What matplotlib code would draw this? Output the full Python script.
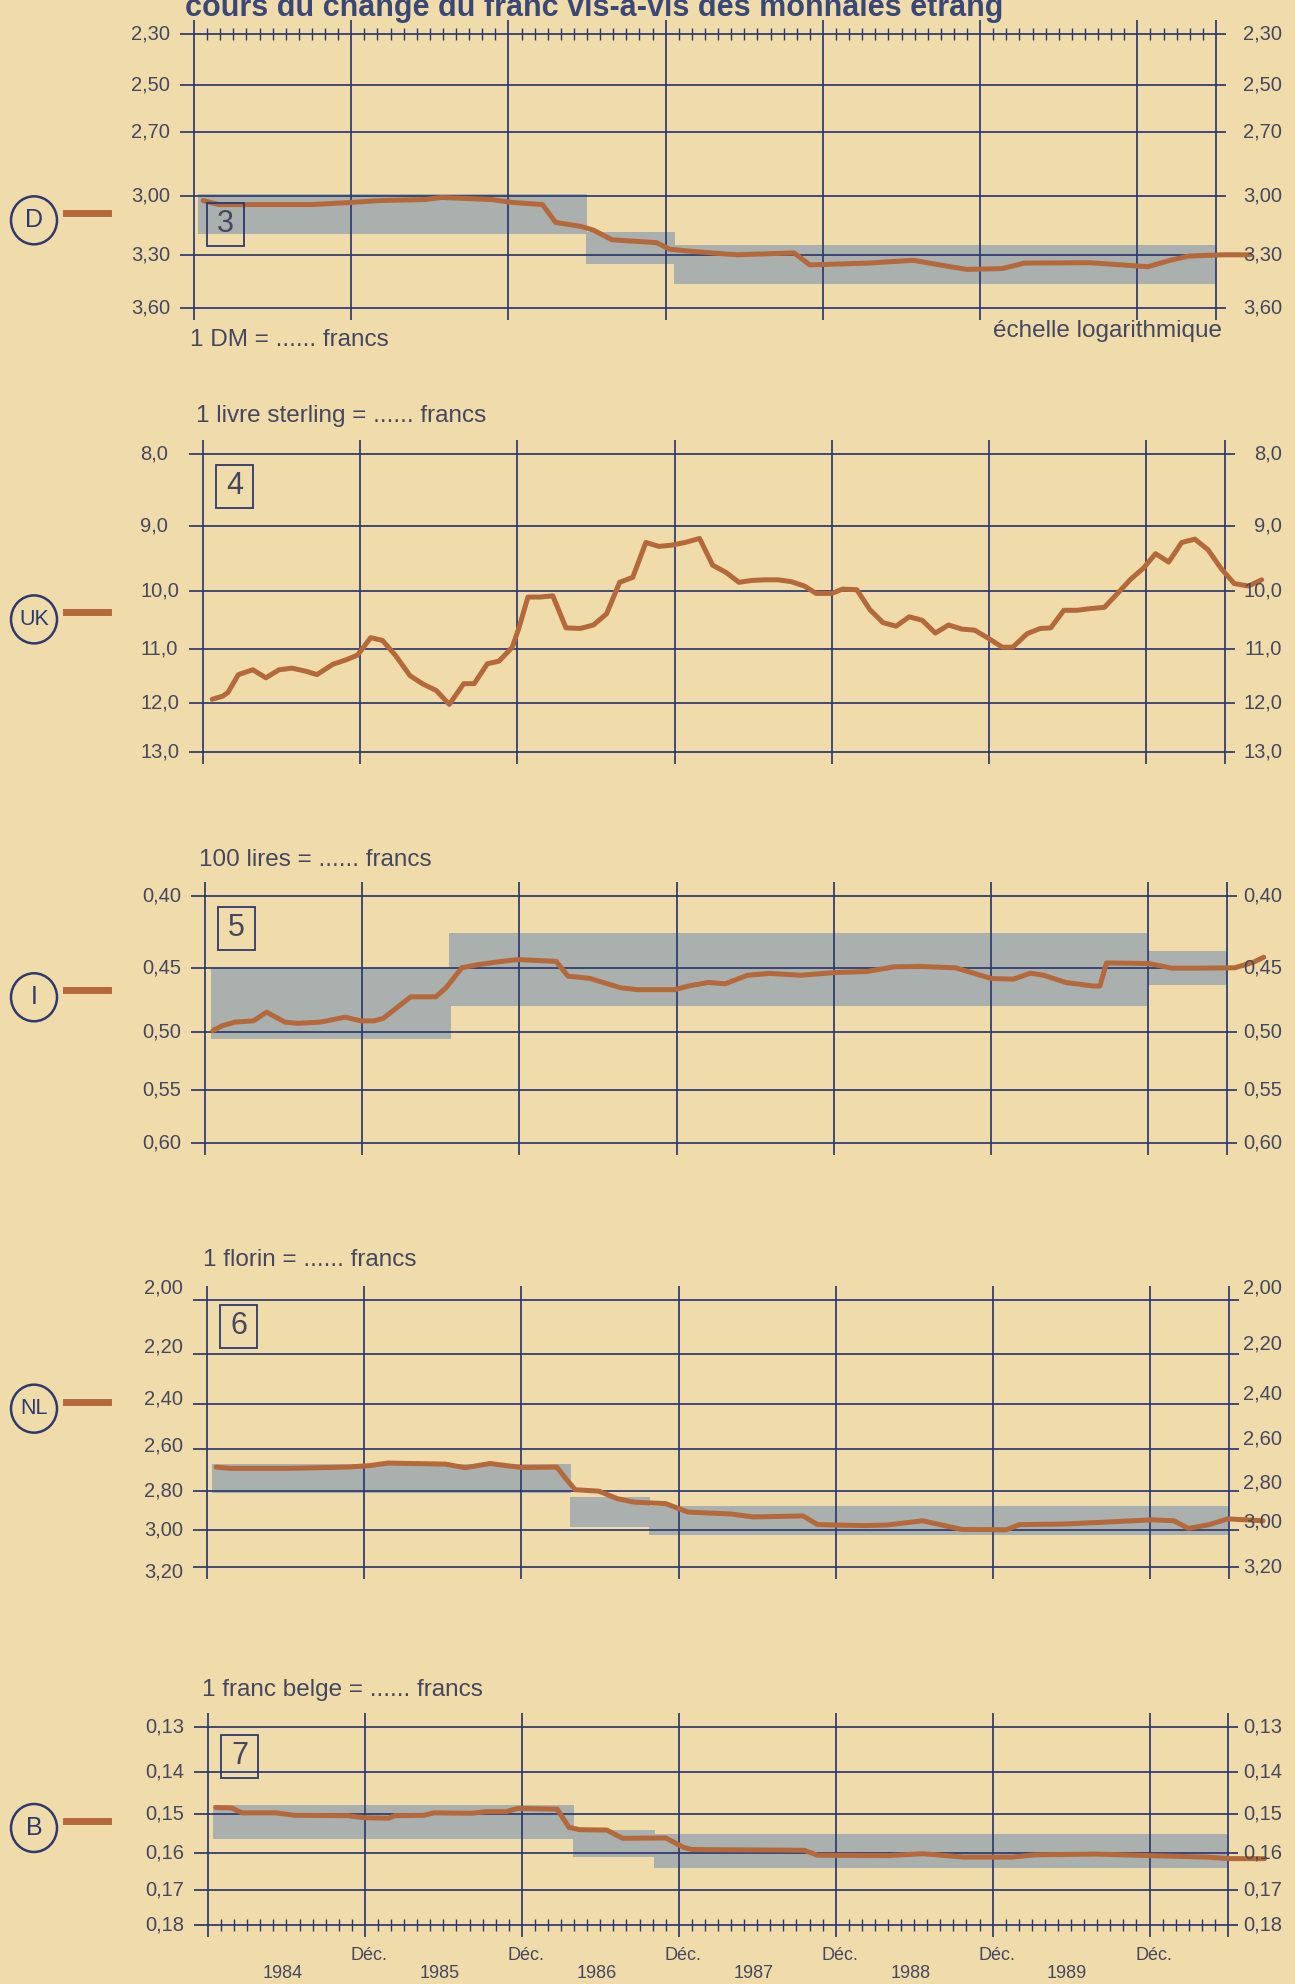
import matplotlib.pyplot as plt
from matplotlib import transforms
from matplotlib.patches import Ellipse, Rectangle
from matplotlib.lines import Line2D
from matplotlib.ticker import NullLocator

W, H, DPI = 1295, 1984, 100

BG = '#f0dcaa'
NAVY = '#2c3a6e'
INK = '#434860'
RUST = '#b5693b'
GREY = '#aab0ae'

plt.rcParams['font.family'] = ['Liberation Sans', 'DejaVu Sans']
NARROW = ['Liberation Sans Narrow', 'Liberation Sans', 'DejaVu Sans']

# x axis in months, counted from December 1983
month_lines = [0, 12, 24, 36, 48, 60, 72, 78]
dec_months = [12, 24, 36, 48, 60, 72]
year_months = [6, 18, 30, 42, 54, 66]
year_labels = ['1984', '1985', '1986', '1987', '1988', '1989']

# Deutsche Mark
d_ticks = [2.30, 2.50, 2.70, 3.00, 3.30, 3.60]
d_labels = ['2,30', '2,50', '2,70', '3,00', '3,30', '3,60']
d_months = [0.7, 1.9, 5.6, 9.0, 11.8, 14.2, 17.6, 18.9, 22.7, 24.4, 26.6, 27.6,
            29.5, 30.5, 31.9, 35.3, 36.3, 37.7, 41.4, 45.8, 47.0, 51.5, 54.9,
            56.9, 59.0, 61.7, 63.4, 68.4, 71.8, 72.8, 74.5, 75.9, 78.6, 80.6]
d_values = [3.02, 3.04, 3.04, 3.04, 3.03, 3.02, 3.015, 3.005, 3.015, 3.03, 3.04,
            3.13, 3.15, 3.17, 3.22, 3.235, 3.27, 3.28, 3.30, 3.29, 3.355, 3.345,
            3.33, 3.355, 3.38, 3.375, 3.345, 3.343, 3.36, 3.365, 3.33, 3.307,
            3.30, 3.30]
d_band_start = [0.3, 29.9, 36.6]
d_band_end = [30.0, 36.7, 80.6]
d_band_low = [2.99, 3.18, 3.25]
d_band_high = [3.19, 3.35, 3.46]

# livre sterling
uk_ticks = [8.0, 9.0, 10.0, 11.0, 12.0, 13.0]
uk_labels = ['8,0', '9,0', '10,0', '11,0', '12,0', '13,0']
uk_months = [0.7, 1.5, 1.9, 2.7, 3.8, 4.8, 5.8, 6.8, 7.9, 8.7, 9.9, 11.0, 11.8,
             12.8, 13.7, 14.7, 15.8, 16.8, 17.8, 18.8, 19.9, 20.7, 21.7, 22.6,
             23.6, 24.1, 24.8, 25.7, 26.7, 27.7, 28.8, 29.8, 30.8, 31.8, 32.8,
             33.8, 34.8, 35.8, 36.8, 37.9, 38.9, 39.9, 40.9, 41.9, 42.9, 43.9,
             44.9, 45.9, 46.8, 48.0, 48.8, 49.9, 50.9, 51.9, 52.9, 53.9, 54.9,
             55.9, 56.9, 57.9, 58.9, 60.0, 61.0, 61.8, 62.9, 63.9, 64.7, 65.7,
             66.7, 67.8, 68.8, 69.8, 70.8, 71.8, 72.7, 73.7, 74.7, 75.7, 76.7,
             77.7, 78.7, 79.8, 80.8]
uk_values = [11.93, 11.87, 11.8, 11.46, 11.37, 11.52, 11.37, 11.34, 11.4, 11.46,
             11.27, 11.18, 11.1, 10.79, 10.84, 11.11, 11.48, 11.64, 11.76, 12.03,
             11.63, 11.63, 11.26, 11.21, 10.96, 10.63, 10.1, 10.1, 10.08, 10.62,
             10.63, 10.57, 10.38, 9.86, 9.78, 9.24, 9.3, 9.28, 9.24, 9.18, 9.59,
             9.7, 9.86, 9.83, 9.82, 9.82, 9.85, 9.92, 10.04, 10.04, 9.97, 9.98,
             10.31, 10.53, 10.59, 10.43, 10.49, 10.71, 10.57, 10.64, 10.66, 10.81,
             10.96, 10.96, 10.72, 10.63, 10.62, 10.32, 10.32, 10.29, 10.27, 10.04,
             9.81, 9.63, 9.41, 9.54, 9.24, 9.19, 9.35, 9.64, 9.88, 9.92, 9.82]

# lire (100 lires)
it_ticks = [0.40, 0.45, 0.50, 0.55, 0.60]
it_labels = ['0,40', '0,45', '0,50', '0,55', '0,60']
it_months = [0.6, 1.3, 2.3, 3.7, 4.7, 6.1, 7.1, 8.8, 10.7, 11.9, 12.9, 13.6, 14.7,
             15.7, 17.6, 18.4, 19.6, 20.8, 22.5, 23.9, 26.8, 27.7, 29.4, 31.7,
             33.0, 35.8, 37.0, 38.4, 39.7, 41.4, 43.1, 45.5, 48.0, 50.5, 52.6,
             54.6, 57.3, 60.0, 61.7, 63.0, 64.0, 65.7, 67.8, 68.3, 68.8, 70.8,
             72.1, 73.8, 75.9, 78.6, 80.0, 80.8]
it_values = [0.499, 0.495, 0.492, 0.491, 0.484, 0.492, 0.493, 0.492, 0.488, 0.491,
             0.491, 0.489, 0.480, 0.472, 0.472, 0.465, 0.450, 0.4478, 0.4455,
             0.444, 0.4453, 0.4562, 0.458, 0.465, 0.4665, 0.4665, 0.4635, 0.461,
             0.462, 0.4556, 0.4542, 0.4556, 0.4536, 0.4528, 0.4493, 0.449,
             0.4501, 0.458, 0.4585, 0.454, 0.4556, 0.461, 0.4637, 0.4637, 0.4465,
             0.4467, 0.447, 0.4503, 0.4503, 0.45, 0.446, 0.4423]
it_band_start = [0.45, 18.6, 72.0]
it_band_end = [18.8, 71.9, 80.0]
it_band_low = [0.450, 0.425, 0.438]
it_band_high = [0.506, 0.479, 0.463]

# florin
nl_ticks = [2.00, 2.20, 2.40, 2.60, 2.80, 3.00, 3.20]
nl_labels = ['2,00', '2,20', '2,40', '2,60', '2,80', '3,00', '3,20']
nl_months = [0.7, 1.8, 6.2, 10.7, 12.4, 13.8, 18.2, 19.7, 21.6, 24.0, 26.7, 27.4,
             28.1, 29.9, 31.3, 32.6, 35.0, 36.7, 40.0, 41.7, 45.5, 46.6, 50.2,
             51.9, 54.6, 57.6, 61.0, 62.0, 65.4, 68.8, 72.2, 73.8, 74.9, 76.5,
             77.9, 80.6]
nl_values = [2.684, 2.69, 2.69, 2.684, 2.677, 2.665, 2.67, 2.687, 2.667, 2.686,
             2.684, 2.74, 2.793, 2.80, 2.837, 2.855, 2.862, 2.905, 2.915, 2.93,
             2.925, 2.97, 2.975, 2.972, 2.95, 2.995, 2.997, 2.97, 2.967, 2.956,
             2.945, 2.95, 2.99, 2.97, 2.94, 2.95]
nl_band_start = [0.4, 27.7, 33.7]
nl_band_end = [27.8, 33.8, 79.9]
nl_band_low = [2.67, 2.83, 2.875]
nl_band_high = [2.81, 2.98, 3.025]

# franc belge
b_ticks = [0.13, 0.14, 0.15, 0.16, 0.17, 0.18]
b_labels = ['0,13', '0,14', '0,15', '0,16', '0,17', '0,18']
b_months = [0.6, 1.8, 2.6, 5.2, 6.6, 10.7, 11.9, 13.8, 14.3, 16.5, 17.3, 20.2,
            21.3, 22.8, 23.7, 26.7, 27.6, 28.4, 30.5, 31.7, 35.0, 36.4, 37.0,
            45.6, 46.6, 52.0, 54.7, 57.8, 61.5, 63.2, 67.9, 72.0, 76.4, 78.1, 80.8]
b_values = [0.1484, 0.1485, 0.1497, 0.1497, 0.1503, 0.1504, 0.1509, 0.151,
            0.1504, 0.1503, 0.1497, 0.1498, 0.1494, 0.1494, 0.1486, 0.1488,
            0.1533, 0.1539, 0.154, 0.1561, 0.156, 0.1585, 0.159, 0.1592, 0.1605,
            0.1606, 0.1601, 0.161, 0.161, 0.1604, 0.1602, 0.1606, 0.161, 0.1614,
            0.1614]
b_band_start = [0.4, 27.9, 34.1]
b_band_end = [28.0, 34.2, 80.3]
b_band_low = [0.1477, 0.154, 0.155]
b_band_high = [0.1563, 0.161, 0.164]

panels = [
    dict(code='D', num='3', box=(194, 34, 1216, 308), circle=0.32, num_top=203,
         months=d_months, values=d_values, ticks=d_ticks, labels=d_labels,
         bands=(d_band_start, d_band_end, d_band_low, d_band_high),
         caption='1 DM = ...... francs', caption_xy=(190, 340), month_ticks='top'),
    dict(code='UK', num='4', box=(203, 454, 1225, 752), circle=0.445, num_top=465,
         months=uk_months, values=uk_values, ticks=uk_ticks, labels=uk_labels,
         bands=None, caption='1 livre sterling = ...... francs',
         caption_xy=(196, 416)),
    dict(code='I', num='5', box=(205, 896, 1227, 1143), circle=0.59, num_top=907,
         months=it_months, values=it_values, ticks=it_ticks, labels=it_labels,
         bands=(it_band_start, it_band_end, it_band_low, it_band_high),
         caption='100 lires = ...... francs', caption_xy=(199, 860)),
    dict(code='NL', num='6', box=(207, 1300, 1229, 1567), circle=0.593, num_top=1305,
         months=nl_months, values=nl_values, ticks=nl_ticks, labels=nl_labels,
         bands=(nl_band_start, nl_band_end, nl_band_low, nl_band_high),
         caption='1 florin = ...... francs', caption_xy=(203, 1260),
         lift_left=[12, 7, 5, 3, 0, 0, -5], lift_right=[12, 10, 10, 10, 8, 8, 0]),
    dict(code='B', num='7', box=(208, 1727, 1228, 1925), circle=0.49, num_top=1735,
         months=b_months, values=b_values, ticks=b_ticks, labels=b_labels,
         bands=(b_band_start, b_band_end, b_band_low, b_band_high),
         caption='1 franc belge = ...... francs', caption_xy=(202, 1690),
         month_ticks='bottom'),
]

# right-hand value labels end at this pixel column
RIGHT_LABEL_EDGE = 1282

fig = plt.figure(figsize=(W / DPI, H / DPI), dpi=DPI, facecolor=BG)


def fx(x):
    return x / W


def fy(y):
    return 1 - y / H


def draw_panel(p):
    left, top, right, bottom = p['box']
    wpx, hpx = right - left, bottom - top
    ax = fig.add_axes([fx(left), fy(bottom), wpx / W, hpx / H])
    ax.set_facecolor('none')
    for s in ax.spines.values():
        s.set_visible(False)
    ax.set_yscale('log')
    ax.set_xlim(0, 78)
    ticks = p['ticks']
    ax.set_ylim(ticks[-1], ticks[0])
    ax.yaxis.set_major_locator(NullLocator())
    ax.yaxis.set_minor_locator(NullLocator())
    ax.set_xticks([])
    ax.tick_params(axis='x', which='both', bottom=False, top=False,
                   labelbottom=False)

    if p['bands']:
        start, end, low, high = p['bands']
        ax.bar(start, [h - l for h, l in zip(high, low)],
               width=[e - s for s, e in zip(start, end)], bottom=low,
               align='edge', color=GREY, linewidth=0, zorder=1)

    ax.hlines(ticks, -14 / wpx, 1 + 10 / wpx, transform=ax.get_yaxis_transform(),
              colors=NAVY, linewidth=1.25, clip_on=False, zorder=2)
    ax.vlines(month_lines, -12 / hpx, 1 + 14 / hpx,
              transform=ax.get_xaxis_transform(), colors=NAVY, linewidth=1.25,
              clip_on=False, zorder=2)

    if p.get('month_ticks'):
        side = p['month_ticks']
        ax.set_xticks([m for m in range(1, 78) if m % 12], minor=True)
        ax.tick_params(axis='x', which='minor', direction='inout', length=9,
                       width=1.0, color=NAVY, top=(side == 'top'),
                       bottom=(side == 'bottom'), labelbottom=False)

    ax.plot(p['months'], p['values'], color=RUST, linewidth=3.6, clip_on=False,
            solid_joinstyle='round', solid_capstyle='round', zorder=3)

    # value labels on both sides
    lift_l = p.get('lift_left', [0] * len(ticks))
    lift_r = p.get('lift_right', [0] * len(ticks))
    ytrans = ax.get_yaxis_transform()
    for t, lab, dl, dr in zip(ticks, p['labels'], lift_l, lift_r):
        ax.text(0, t, lab, ha='left', va='center', fontsize=14.5, color=INK,
                transform=transforms.offset_copy(ytrans, fig=fig, x=-63, y=dl,
                                                 units='dots'))
        ax.text(1, t, lab, ha='right', va='center', fontsize=14.5, color=INK,
                transform=transforms.offset_copy(ytrans, fig=fig,
                                                 x=RIGHT_LABEL_EDGE - right,
                                                 y=dr, units='dots'))

    # boxed chart number
    bx, bw, bh = left + 13, 37, 43
    fig.add_artist(Rectangle((fx(bx), fy(p['num_top'] + bh)), bw / W, bh / H,
                             transform=fig.transFigure, fill=False,
                             edgecolor=NAVY, linewidth=1.3, zorder=4))
    fig.text(fx(bx + bw / 2), fy(p['num_top'] + bh / 2), p['num'], ha='center',
             va='center', fontsize=22, color=INK)

    # country badge
    cy = top + (1 - p['circle']) * hpx
    fig.add_artist(Ellipse((fx(34), fy(cy)), 46 / W, 48 / H,
                           transform=fig.transFigure, fill=False,
                           edgecolor=NAVY, linewidth=1.8))
    fig.text(fx(34), fy(cy), p['code'], ha='center', va='center',
             fontsize=18 if len(p['code']) == 1 else 15.5, color=NAVY,
             family=NARROW)
    fig.add_artist(Line2D([fx(66), fx(108)], [fy(cy - 7)] * 2,
                          transform=fig.transFigure, color=RUST, linewidth=5))

    cx, cyy = p['caption_xy']
    fig.text(fx(cx), fy(cyy), p['caption'], ha='left', va='center',
             fontsize=17.5, color=INK)
    return ax


axes = [draw_panel(p) for p in panels]

fig.text(fx(1222), fy(331), 'échelle logarithmique', ha='right', va='center',
         fontsize=17.5, color=INK)

# month / year labels under the last panel
last = axes[-1]
xt = last.get_xaxis_transform()
for m in dec_months:
    last.text(m + 0.3, 0, 'Déc.', ha='center', va='center', fontsize=13,
              color=INK, transform=transforms.offset_copy(xt, fig=fig, x=0, y=-31,
                                                          units='dots'))
for m, lab in zip(year_months, year_labels):
    last.text(m - 0.3, 0, lab, ha='center', va='center', fontsize=13,
              color=INK, transform=transforms.offset_copy(xt, fig=fig, x=0, y=-49,
                                                          units='dots'))

title = fig.text(fx(185), fy(16),
                 'cours du change du franc vis-à-vis des monnaies étrangères',
                 ha='left', va='baseline', fontsize=22, fontweight='bold',
                 color='#3a4878', family=NARROW)
clip = Rectangle((0, 0), fx(1004), 1, transform=fig.transFigure)
title.set_clip_path(clip)

fig.savefig('out.png', dpi=DPI, facecolor=BG)
